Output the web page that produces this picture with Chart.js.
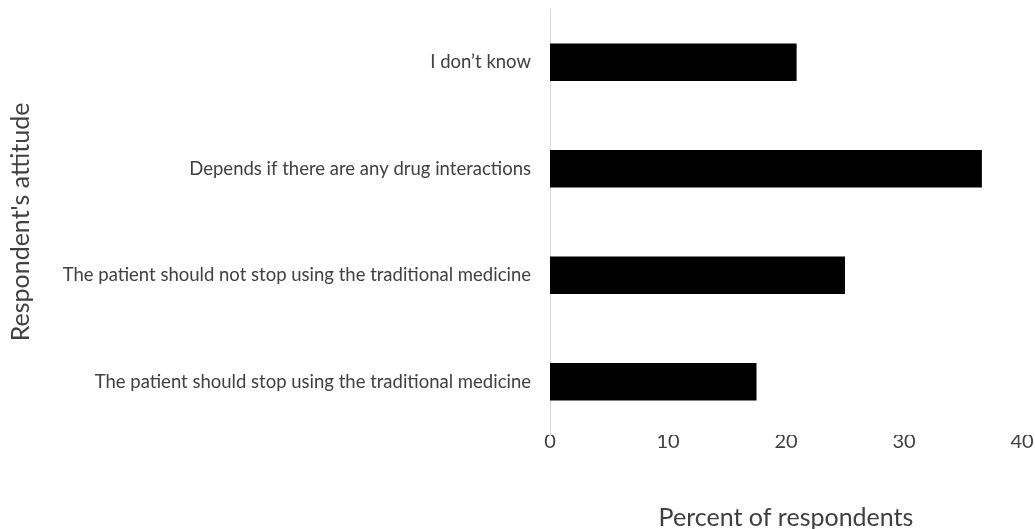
<!DOCTYPE html>
<html>
<head>
<meta charset="utf-8">
<script src="https://cdn.jsdelivr.net/npm/chart.js@4.4.1/dist/chart.umd.min.js"></script>
<style>
html,body{margin:0;padding:0;background:#fff;}
#wrap{width:1035px;height:529px;position:relative;}
</style>
</head>
<body>
<div id="wrap"><canvas id="c"></canvas></div>
<script>
const categories = [
  "I don\u2019t know",
  "Depends if there are any drug interactions",
  "The patient should not stop using the traditional medicine",
  "The patient should stop using the traditional medicine"
];
const percentValues = [20.9, 36.6, 25.0, 17.5];
const xTicks = [0, 10, 20, 30, 40];
const xTitle = "Percent of respondents";
const yTitle = "Respondent's attitude";

const textColor = '#404040';
const fontFamily = 'Lato, "Open Sans", sans-serif';

new Chart(document.getElementById('c'), {
  type: 'bar',
  data: {
    labels: categories,
    datasets: [{
      data: percentValues,
      backgroundColor: '#000000',
      borderWidth: 0,
      categoryPercentage: 1.0,
      barPercentage: 0.35
    }]
  },
  options: {
    indexAxis: 'y',
    responsive: true,
    maintainAspectRatio: false,
    animation: false,
    layout: { padding: { top: 9, right: 13, bottom: 0, left: 0 } },
    plugins: { legend: { display: false }, tooltip: { enabled: false } },
    scales: {
      x: {
        min: 0, max: 40,
        afterBuildTicks: s => { s.ticks = xTicks.map(v => ({ value: v })); },
        afterFit: s => { s.height = 94; s.paddingRight = 0; s.paddingLeft = 0; },
        grid: { display: false, drawTicks: false },
        border: { display: false },
        ticks: { color: textColor, font: { family: fontFamily, size: 20, lineHeight: 0.7 }, padding: 0 },
        title: { display: true, text: xTitle, color: textColor, font: { family: fontFamily, size: 25, lineHeight: 0.9 }, padding: { top: 20, bottom: 0 } }
      },
      y: {
        afterFit: s => { s.width = 550; s.paddingTop = 0; s.paddingBottom = 0; },
        grid: { display: false, drawTicks: false },
        border: { display: true, color: '#d9d9d9', width: 1 },
        ticks: { color: textColor, font: { family: fontFamily, size: 18.5 }, padding: 19 },
        title: { display: true, text: yTitle, color: textColor, font: { family: fontFamily, size: 25 }, padding: { top: 6, bottom: 0 } }
      }
    }
  }
});
</script>
</body>
</html>
